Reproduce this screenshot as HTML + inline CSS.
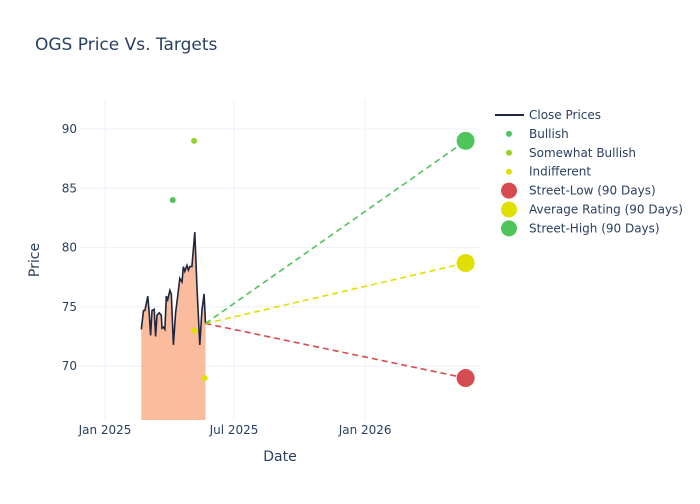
<!DOCTYPE html>
<html><head><meta charset="utf-8"><style>
body{margin:0;background:#fff;font-family:"DejaVu Sans",sans-serif}
svg text{font-family:"DejaVu Sans","Liberation Sans",sans-serif;fill:#2a3f5f}
</style></head><body>
<svg id="c" width="700" height="500" xmlns="http://www.w3.org/2000/svg">
<rect width="700" height="500" fill="#fff"/>
<text x="35" y="50" font-size="17">OGS Price Vs. Targets</text>
<g id="grid"></g><g id="marks"></g><g id="legend"></g>
<text x="280" y="461" font-size="14" text-anchor="middle">Date</text>
<text x="39" y="260" font-size="14" text-anchor="middle" transform="rotate(-90 39 260)">Price</text>
</svg>
<script>
const priceDates=["2025-02-21","2025-02-24","2025-02-26","2025-03-02","2025-03-04","2025-03-06","2025-03-08","2025-03-11","2025-03-13","2025-03-15","2025-03-18","2025-03-21","2025-03-22","2025-03-24","2025-03-26","2025-03-28","2025-03-30","2025-04-02","2025-04-04","2025-04-07","2025-04-10","2025-04-13","2025-04-16","2025-04-19","2025-04-21","2025-04-23","2025-04-26","2025-04-28","2025-04-30","2025-05-03","2025-05-07","2025-05-10","2025-05-11","2025-05-14","2025-05-17","2025-05-20","2025-05-22"];
const priceValues=[73.1,74.7,74.7,75.9,74.5,72.6,74.7,74.8,72.5,74.3,74.5,74.3,73.2,73.3,73.1,75.9,75.6,76.4,76.1,71.8,74.5,75.9,77.4,77.1,78.4,78.0,78.5,78.1,78.4,78.4,81.3,76.8,75.4,71.8,74.7,76.1,73.6];
const bullishDates=["2025-04-06"],bullishValues=[84];
const somewhatDates=["2025-05-06"],somewhatValues=[89];
const indiffDates=["2025-05-06","2025-05-21"],indiffValues=[73,69];
const targetDate="2026-05-22";
const targetLabels=["Street-Low (90 Days)","Average Rating (90 Days)","Street-High (90 Days)"];
const targetValues=[69,78.7,89];
const yTicks=[70,75,80,85,90];
const xTickDates=["2025-01-01","2025-07-01","2026-01-01"],xTickLabels=["Jan 2025","Jul 2025","Jan 2026"];

const NS="http://www.w3.org/2000/svg";
const L=80,R=480,T=100,B=420;
const d0=Date.UTC(2025,0,1);
const day=s=>{const p=s.split("-");return (Date.UTC(+p[0],p[1]-1,+p[2])-d0)/864e5;};
const X=s=>105+day(s)*0.7127;
const Y=v=>129+(90-v)*11.86;
function mk(t,a,p){const e=document.createElementNS(NS,t);for(const k in a)e.setAttribute(k,a[k]);(p||document.getElementById("marks")).appendChild(e);return e;}
const grid=document.getElementById("grid");
yTicks.forEach(v=>{
 const g=mk("line",{x1:L,x2:R,y1:Y(v),y2:Y(v),stroke:"#ebf0f8"},grid);
 
 
 const t=mk("text",{x:L-3,y:Y(v)+4,"font-size":12,"text-anchor":"end"},grid);t.textContent=v;
 
 
});
xTickDates.forEach((d,i)=>{
 const g=mk("line",{x1:X(d),x2:X(d),y1:T,y2:B,stroke:"#ebf0f8"},grid);
 
 
 const t=mk("text",{x:X(d),y:B+14,"font-size":12,"text-anchor":"middle"},grid);t.textContent=xTickLabels[i];
 
 
});
let pts=priceDates.map((d,i)=>X(d).toFixed(1)+","+Y(priceValues[i]).toFixed(1));
const area=mk("polygon",{points:X(priceDates[0])+","+B+" "+pts.join(" ")+" "+X(priceDates[priceDates.length-1])+","+B,fill:"rgba(250,160,115,0.7)"});


const line=mk("polyline",{points:pts.join(" "),fill:"none",stroke:"#1f2640","stroke-width":1.6});


const lx=X(priceDates[priceDates.length-1]),ly=Y(priceValues[priceValues.length-1]);
const tcols=["#d64b4f","#e0e000","#4fc45a"];
const lcols=["#d64b4f","#e0e000","#4fc45a"];
targetValues.forEach((v,i)=>{
 const l=mk("line",{x1:lx,y1:ly,x2:X(targetDate),y2:Y(v),stroke:lcols[i],"stroke-width":1.6,"stroke-dasharray":"6,4"});
 
 
});
function dots(ds,vs,c,r,name){ds.forEach((d,i)=>{const e=mk("circle",{cx:X(d),cy:Y(vs[i]),r:r,fill:c});
 
 });}
dots(bullishDates,bullishValues,"#4fc45a",3,"bullish-point");
dots(somewhatDates,somewhatValues,"#9ad02a",3,"somewhat-bullish-point");
dots(indiffDates,indiffValues,"#e0e000",3,"indifferent-point");
targetValues.forEach((v,i)=>{const e=mk("circle",{cx:X(targetDate),cy:Y(v),r:9,fill:tcols[i]});
 
 });
const lg=document.getElementById("legend");
const items=[["line","#1f2640","Close Prices"],["s","#4fc45a","Bullish"],["s","#9ad02a","Somewhat Bullish"],["s","#e0e000","Indifferent"],["b","#d64b4f",targetLabels[0]],["b","#e0e000",targetLabels[1]],["b","#4fc45a",targetLabels[2]]];
items.forEach((it,i)=>{const y=115+i*18.9;
 const g=mk("g",{},lg);
 
 
 if(it[0]=="line")mk("line",{x1:495,x2:524,y1:y,y2:y,stroke:it[1],"stroke-width":2},g);
 else mk("circle",{cx:509,cy:y,r:it[0]=="s"?3:8,fill:it[1]},g);
 const t=mk("text",{x:529,y:y+4,"font-size":12},g);t.textContent=it[2];});
</script>
</body></html>
